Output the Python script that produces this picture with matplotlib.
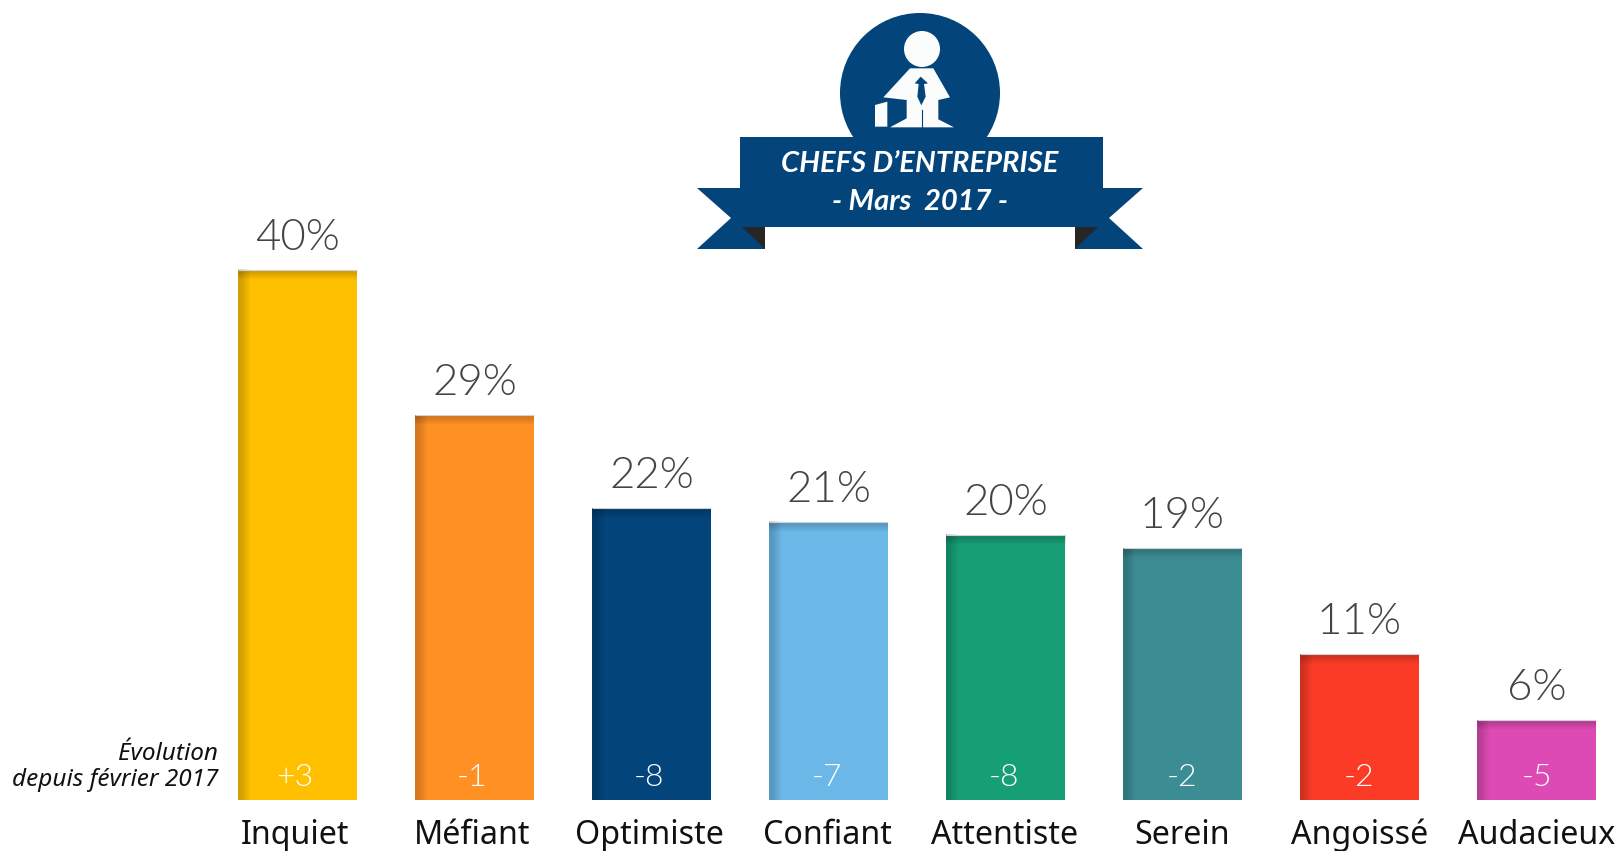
import numpy as np
import matplotlib
matplotlib.use("Agg")
import matplotlib.pyplot as plt
from matplotlib.patches import Polygon, Circle, Rectangle

categories = ["Inquiet", "Méfiant", "Optimiste", "Confiant", "Attentiste", "Serein", "Angoissé", "Audacieux"]
values = [40, 29, 22, 21, 20, 19, 11, 6]
evolution = ["+3", "-1", "-8", "-7", "-8", "-2", "-2", "-5"]
colors = ["#FFC000", "#FF9024", "#03447B", "#6AB7E8", "#169E75", "#3C8C94", "#FB3B26", "#DD4AB4"]
NAVY = "#03447B"

W, H = 1621, 851
PX = 72 / 100
X0, DX = 297.5, 177.0      # pixel position of first bar centre, bar pitch
Y0, DY = 800.0, 13.26      # pixel position of baseline, pixels per percent
BAR_W = 119 / DX

fig = plt.figure(figsize=(W / 100, H / 100), dpi=100, facecolor="white")
ax = fig.add_axes([0, 0, 1, 1])
ax.axis("off")

xs = np.arange(len(categories))
ax.bar(xs, values, width=BAR_W, color=colors, linewidth=0, zorder=2)
ax.hlines(values, xs - BAR_W / 2, xs + BAR_W / 2, color="#D2D2D2", lw=0.8, zorder=4)

# soft inner shadow on the left and top edges of each bar
for x, v in zip(xs, values):
    l = x - BAR_W / 2
    sw, sh = 13 / DX, 10 / DY
    grad = np.zeros((1, 32, 4))
    grad[..., 3] = np.r_[np.full(8, 0.17), np.linspace(0.17, 0, 24)]
    ax.imshow(grad, extent=(l, l + sw, 0, v), aspect="auto", zorder=3, interpolation="bilinear")
    grad2 = np.zeros((32, 1, 4))
    grad2[..., 3] = np.r_[np.full(8, 0.17), np.linspace(0.17, 0, 24)].reshape(32, 1)
    ax.imshow(grad2, extent=(l, l + BAR_W, v - sh, v), aspect="auto", zorder=3, interpolation="bilinear")
ax.set_xlim(-X0 / DX, (W - X0) / DX)
ax.set_ylim(-(H - Y0) / DY, Y0 / DY)

LIGHT = dict(family="Lato", weight=300)
for i, (x, v, e, name) in enumerate(zip(xs, values, evolution, categories)):
    shift = (-3 + 0.5 * i) * PX
    ax.annotate(f"{v}%", (x, v), xytext=(0, 20 * PX), textcoords="offset points",
                ha="center", va="baseline", fontsize=31.5, color="#444444", zorder=5, **LIGHT)
    ax.annotate(e, (x, 0), xytext=(shift, 14 * PX), textcoords="offset points",
                ha="center", va="baseline", fontsize=23, color="white", zorder=5, **LIGHT)
    ax.annotate(name, (x, 0), xytext=(shift, -44 * PX), textcoords="offset points",
                ha="center", va="baseline", fontsize=23.2, color="#111111", family="Noto Sans", zorder=5)

fig.text(218 / W, 1 - 760 / H, "Évolution", ha="right", va="baseline", fontsize=17.5,
         style="italic", family="Noto Sans", color="#111111")
fig.text(218 / W, 1 - 786 / H, "depuis février 2017", ha="right", va="baseline", fontsize=17.5,
         style="italic", family="Noto Sans", color="#111111")

# badge, drawn in pixel coordinates
bx = fig.add_axes([0, 0, 1, 1], zorder=6)
bx.set_xlim(0, W); bx.set_ylim(H, 0); bx.axis("off"); bx.patch.set_alpha(0)
bx.add_patch(Circle((920, 93), 80, color=NAVY, lw=0))
def z(pts):
    return [(680 + a / 3, b / 3) for a, b in pts]
WH = "#FBFCFC"
bx.add_patch(Circle((922, 49), 18, color=WH, lw=0))
bx.add_patch(Polygon(z([(690, 205), (760, 205), (810, 292), (775, 300), (775, 358), (822, 382), (630, 382),
                        (680, 355), (680, 300), (610, 292)]), closed=True, color=WH, lw=0))
bx.add_patch(Polygon(z([(585, 315), (622, 305), (622, 380), (585, 380)]), closed=True, color=WH, lw=0))
bx.add_patch(Polygon(z([(722, 230), (704, 250), (716, 252), (712, 290), (724, 316), (737, 290),
                        (732, 252), (744, 250)]), closed=True, color=NAVY, lw=0))
bx.plot(*zip(*z([(725, 330), (725, 382)])), color=NAVY, lw=0.8)

bx.add_patch(Polygon([(697, 188), (760, 188), (765, 249), (697, 249), (731, 218)], closed=True, color=NAVY, lw=0))
bx.add_patch(Polygon([(1143, 188), (1085, 188), (1075, 249), (1143, 249), (1109, 218)], closed=True, color=NAVY, lw=0))
bx.add_patch(Polygon([(742, 227), (765, 227), (765, 249)], closed=True, color="#262626", lw=0))
bx.add_patch(Polygon([(1098, 227), (1075, 227), (1075, 249)], closed=True, color="#262626", lw=0))
bx.add_patch(Rectangle((740, 137), 363, 90, color=NAVY, lw=0))
bx.text(920, 172, "CHEFS D’ENTREPRISE", ha="center", va="baseline", color="white",
        fontsize=21, style="italic", weight="bold", family="Lato")
bx.text(920, 210, "- Mars  2017 -", ha="center", va="baseline", color="white",
        fontsize=21, style="italic", weight="bold", family="Lato")

fig.savefig("out.png", dpi=100, facecolor="white")
